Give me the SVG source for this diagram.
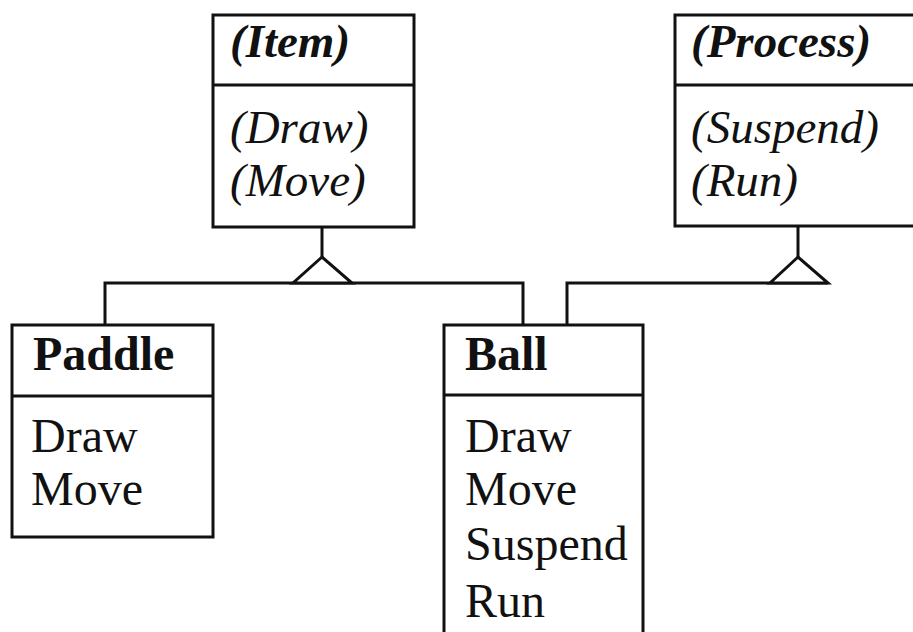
<svg xmlns="http://www.w3.org/2000/svg" width="913" height="632" viewBox="0 0 913 632">
  <style>
    .box { fill: #fff; stroke: #111; stroke-width: 3; }
    .rule { stroke: #111; stroke-width: 3; }
    .link { fill: none; stroke: #111; stroke-width: 3; }
    .tri { fill: #fff; stroke: #111; stroke-width: 3; stroke-linejoin: miter; }
    text { font-family: "Liberation Serif", "Times New Roman", serif; font-size: 48px; fill: #111; }
    .name { font-weight: bold; }
    .abstract { font-style: italic; font-size: 47px; }
  </style>
  <rect width="913" height="632" fill="#fff"/>

  <!-- generalization connectors -->
  <g id="connectors">
    <path class="link" d="M322 227 V257 M105 325 V283 H523 V325"/>
    <polygon class="tri" points="322,257 293,283 352,283"/>
    <path class="link" d="M798 226 V257 M567 325 V283 H828"/>
    <polygon class="tri" points="798,257 770,283 828,283"/>
  </g>

  <!-- abstract class Item -->
  <g id="item">
    <rect class="box" x="213" y="15" width="201" height="212"/>
    <line class="rule" x1="213" y1="85" x2="414" y2="85"/>
    <text class="name abstract" x="230" y="57">(Item)</text>
    <text class="abstract" x="230" y="143">(Draw)</text>
    <text class="abstract" x="230" y="196">(Move)</text>
  </g>

  <!-- abstract class Process -->
  <g id="process">
    <rect class="box" x="675" y="15" width="250" height="211"/>
    <line class="rule" x1="675" y1="85" x2="913" y2="85"/>
    <text class="name abstract" x="691" y="57">(Process)</text>
    <text class="abstract" x="691" y="143">(Suspend)</text>
    <text class="abstract" x="691" y="196">(Run)</text>
  </g>

  <!-- class Paddle -->
  <g id="paddle">
    <rect class="box" x="12" y="325" width="201" height="212"/>
    <line class="rule" x1="12" y1="396" x2="213" y2="396"/>
    <text class="name" x="33" y="370">Paddle</text>
    <text x="31" y="452">Draw</text>
    <text x="31" y="505">Move</text>
  </g>

  <!-- class Ball -->
  <g id="ball">
    <rect class="box" x="444" y="325" width="199" height="330"/>
    <line class="rule" x1="444" y1="395" x2="643" y2="395"/>
    <text class="name" x="465" y="370">Ball</text>
    <text x="465" y="452">Draw</text>
    <text x="465" y="505">Move</text>
    <text x="465" y="560">Suspend</text>
    <text x="465" y="617">Run</text>
  </g>
</svg>
